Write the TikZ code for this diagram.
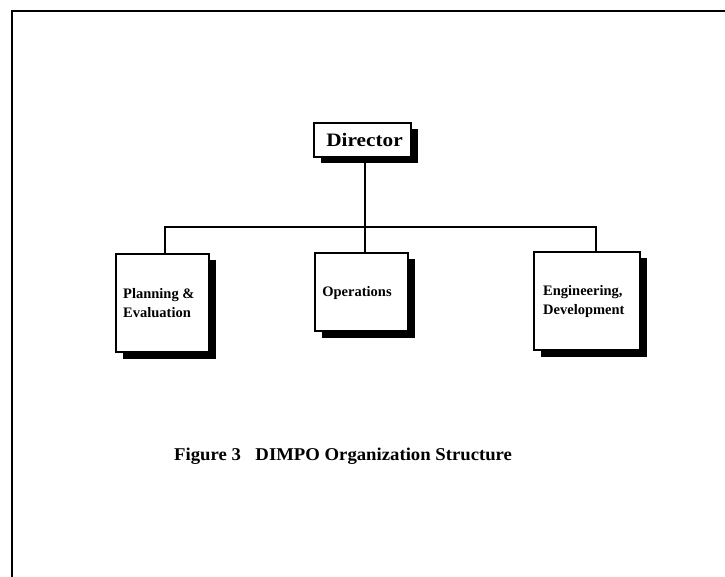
\documentclass[tikz,border=0pt]{standalone}
\usepackage{fontspec}
\usepackage{graphicx}
\setmainfont{Liberation Serif}
\usetikzlibrary{shadows}
\begin{document}
\begin{tikzpicture}[x=1pt,y=-1pt,
  unitbox/.style={draw=black,line width=1.2pt,fill=white,inner sep=0pt,
    drop shadow={shadow xshift=6.5pt,shadow yshift=-6.5pt,fill=black,opacity=1}},
  unitlabel/.style={font=\bfseries\fontsize{14.5}{19}\selectfont,align=left,inner sep=0pt},
  link/.style={line width=1.3pt}]
\useasboundingbox (0,0) rectangle (725,577);
% page frame
\draw[line width=2pt] (11.5,577) -- (11.5,11) -- (725,11);

% boxes
\node[unitbox,minimum width=97pt,minimum height=34pt] (dir) at (362.5,140) {};
\node[unitbox,minimum width=93pt,minimum height=98pt] (pe) at (162.5,303) {};
\node[unitbox,minimum width=93pt,minimum height=78pt] (ops) at (361.5,292) {};
\node[unitbox,minimum width=106pt,minimum height=98pt] (eng) at (587,301) {};

% labels
\node[font=\bfseries\fontsize{19}{22}\selectfont,inner sep=0pt] (dirlab) at (364.5,140) {\scalebox{1.12}[1]{Director}};
\node[unitlabel,anchor=west] (pelab) at (123,303) {Planning \&\\Evaluation};
\node[unitlabel] (opslab) at (357,293) {Operations};
\node[unitlabel,anchor=west] (englab) at (543,302) {Engineering,\\Development};

% connectors
\coordinate (bus) at (365,227);
\draw[link] (dir.south -| bus) -- (bus);
\draw[link] (pe.north -| 165,0) |- (bus) -| (eng.north -| 596,0);
\draw[link] (bus) -- (ops.north -| bus);

% caption
\node[anchor=west,font=\bfseries\fontsize{18}{22}\selectfont,inner sep=0pt] (cap) at (174,456)
  {\scalebox{1.04}[1]{Figure 3\hspace{14pt}DIMPO Organization Structure}};
\end{tikzpicture}
\end{document}
